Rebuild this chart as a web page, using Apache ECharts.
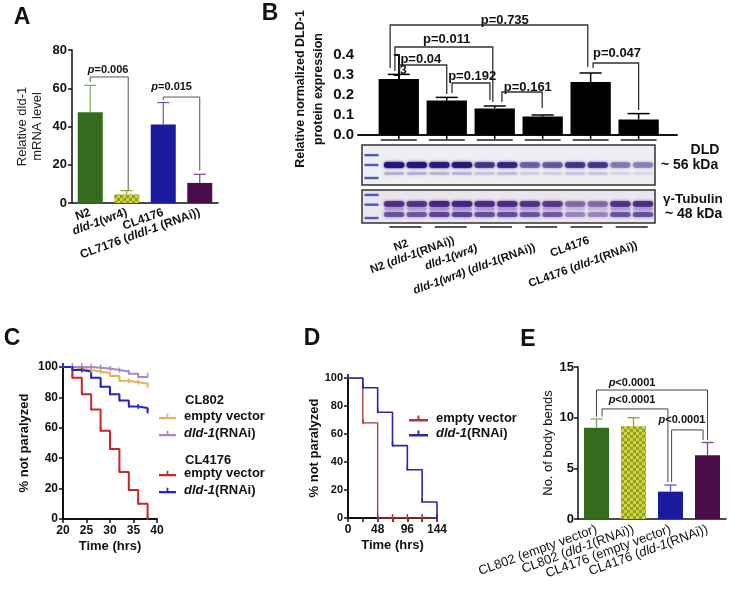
<!DOCTYPE html>
<html>
<head>
<meta charset="utf-8">
<title>dld-1 figure</title>
<script src="https://cdn.jsdelivr.net/npm/echarts@6/dist/echarts.min.js"></script>
<style>
  html, body { margin: 0; padding: 0; background: #fff; }
  #chart { width: 734px; height: 600px; }
</style>
</head>
<body>
<div id="chart"></div>
<script>
// ---- A: relative dld-1 mRNA level ----
const aCategories = ['N2', '{i|dld-1}(wr4)', 'CL4176', 'CL7176 ({i|dldl-1} (RNAi))'];
const aMeans = [47.5, 4.5, 41, 10.5];
const aErrTop = [61.5, 6.5, 52.5, 15];
const aPvals = ['{i|p}=0.006', '{i|p}=0.015'];
// [from, to, height, left leg end, right leg end]
const aBrackets = [[0, 1.04, 65.9, 63.3, 6.8], [2, 3, 55.4, 53.9, 17]];
const aPvalAt = [[0.49, 69.5], [2.23, 60.7]];

// ---- B: normalized DLD-1 protein ----
const bLanes = ['N2', 'N2 ({i|dld-1}(RNAi))', '{i|dld-1(wr4)}', '{i|dld-1(wr4)} ({i|dld-1}(RNAi))', 'CL4176', 'CL4176 ({i|dld-1}(RNAi))'];
const bMeans = [0.28, 0.172, 0.133, 0.092, 0.265, 0.078];
const bErrTop = [0.303, 0.188, 0.145, 0.1, 0.31, 0.107];
const bPvals = ['p=0.735', 'p=0.011', 'p=0.04', 'p=0.192', 'p=0.161', 'p=0.047'];
const bBrackets = [
  [-0.18, 3.94, 0.55, 0.335, 0.34],
  [-0.08, 1.96, 0.44, 0.32, 0.165],
  [0.02, 1.0, 0.35, 0.325, 0.205],
  [1.11, 1.9, 0.26, 0.21, 0.175],
  [2.15, 2.99, 0.215, 0.165, 0.135],
  [4.05, 5.0, 0.36, 0.335, 0.125]
];
const bPvalAt = [[2.21, 0.575], [1.0, 0.48], [0.46, 0.38], [1.53, 0.295], [2.69, 0.24], [4.55, 0.41]];

// western blot lanes (band strength 0..1)
const blotDld = [0.95, 0.95, 0.85, 0.88, 0.62, 0.75, 0.42, 0.45, 0.62, 0.62, 0.32, 0.3];
const blotTub = [0.8, 0.75, 0.95, 0.95, 0.85, 0.85, 0.78, 0.72, 0.42, 0.42, 0.78, 0.82];
const ladder = [0.87, 0.744, 0.577, 0.36, 0.235, 0.064];

// ---- C: paralysis, CL802 / CL4176 ----
const cTime = [20, 22, 24, 26, 28, 30, 32, 34, 36, 38];
const c802Empty = [100, 99, 98, 97, 96, 94, 91, 90, 89, 87];
const c802Rnai = [100, 100, 100, 99.5, 99, 98, 97, 95.5, 93.5, 93.5];
const c4176Empty = [100, 93, 82, 72, 58, 46, 31, 19, 10, 0];
const c4176Rnai = [100, 98, 97, 93, 87, 82, 78, 74, 73, 70];

// ---- D: paralysis ----
const dTime = [0, 24, 48, 72, 96, 120, 144];
const dEmpty = [100, 68, 0, 0, 0, 0, 0];
const dRnai = [100, 93, 75.5, 51.7, 34.5, 11.4, 0];

// ---- E: body bends ----
const eCategories = ['CL802 (empty vector)', 'CL802 ({i|dld-1}(RNAi))', 'CL4176 (empty vector)', 'CL4176 ({i|dld-1}(RNAi))'];
const eMeans = [9.0, 9.15, 2.7, 6.3];
const eErrTop = [9.87, 10.0, 3.35, 7.55];
const ePvals = ['{i|p}<0.0001', '{i|p}<0.0001', '{i|p}<0.0001'];
const eBrackets = [[0, 3, 12.73, 10.1, 7.8], [0.15, 1.93, 10.86, 10.1, 3.65], [2.03, 2.88, 8.79, 3.65, 7.8]];
const ePvalAt = [[0.96, 13.4], [0.96, 11.75], [2.31, 9.77]];

const barColors = ['#346b1d', '#cdd63e', '#1a1a9c', '#4b0c4e'];
const errColors = ['#7fab58', '#9c9c3a', '#5a5ac8', '#7b4a82'];
const FONT = 'Liberation Sans, Arial, sans-serif';
const checker = {
  symbol: 'rect', symbolSize: 1, color: 'rgba(105,115,20,0.55)',
  dashArrayX: [[3, 3], [0, 3, 3, 0]], dashArrayY: [3, 0]
};

const chart = echarts.init(document.getElementById('chart'));

function blackAxis(width) {
  return { show: true, lineStyle: { color: '#111', width: width } };
}

function barData(means) {
  return means.map((v, i) => ({
    value: v,
    itemStyle: Object.assign({ color: barColors[i] }, i === 1 ? { decal: checker } : {})
  }));
}

function errorSeries(xi, means, tops, colors, cap, lw) {
  return {
    type: 'custom', xAxisIndex: xi, yAxisIndex: xi, silent: true, z: 4,
    data: means.map((m, i) => [i, m, tops[i]]),
    renderItem(params, api) {
      const p0 = api.coord([api.value(0), api.value(1)]);
      const p1 = api.coord([api.value(0), api.value(2)]);
      const c = colors[params.dataIndex];
      return {
        type: 'group', children: [
          { type: 'line', shape: { x1: p0[0], y1: p0[1], x2: p1[0], y2: p1[1] }, style: { stroke: c, lineWidth: lw } },
          { type: 'line', shape: { x1: p1[0] - cap, y1: p1[1], x2: p1[0] + cap, y2: p1[1] }, style: { stroke: c, lineWidth: lw } }
        ]
      };
    }
  };
}

function bracketSeries(xi, brackets, labels, at, color, lw, fontSize) {
  return {
    type: 'custom', xAxisIndex: xi, yAxisIndex: xi, silent: true, z: 5,
    data: brackets.map((b, i) => [i]),
    renderItem(params, api) {
      const b = brackets[params.dataIndex];
      const t = at[params.dataIndex];
      const x0 = api.coord([0, 0])[0];
      const bw = api.size([1, 0])[0];
      const px = v => x0 + v * bw;
      const py = v => api.coord([0, v])[1];
      return {
        type: 'group', children: [
          {
            type: 'polyline',
            shape: { points: [[px(b[0]), py(b[3])], [px(b[0]), py(b[2])], [px(b[1]), py(b[2])], [px(b[1]), py(b[4])]] },
            style: { stroke: color, lineWidth: lw, fill: null }
          },
          {
            type: 'text', x: px(t[0]), y: py(t[1]),
            style: {
              text: labels[params.dataIndex], align: 'center', verticalAlign: 'middle',
              fontFamily: FONT, fontWeight: 'bold', fontSize: fontSize, fill: '#111',
              rich: { i: { fontStyle: 'italic', fontWeight: 'bold', fontSize: fontSize, fontFamily: FONT, fill: '#111' } }
            }
          }
        ]
      };
    }
  };
}

function stepSeries(name, xi, xs, ys, color, width) {
  return {
    name: name, type: 'line', step: 'end', xAxisIndex: xi, yAxisIndex: xi,
    data: xs.map((x, i) => [x, ys[i]]),
    symbol: 'rect', symbolSize: [1.5, 5], symbolOffset: [0, -1.5], showSymbol: true,
    lineStyle: { color: color, width: width }, itemStyle: { color: color },
    silent: true, z: 3
  };
}

const legendIcon = 'path://M0,4H16V6H0Z M7.2,1H8.8V5H7.2Z';
const legendText = {
  fontFamily: FONT, fontSize: 13, fontWeight: 'bold', color: '#111', padding: [0, 0, 0, 3],
  rich: { i: { fontFamily: FONT, fontSize: 13, fontWeight: 'bold', fontStyle: 'italic', color: '#111' } }
};
const legendLabel = name => name.replace(/^CL\d+ /, '').replace('dld-1', '{i|dld-1}');

function letter(t, x, y) {
  return { type: 'text', x: x, y: y, style: { text: t, align: 'center', verticalAlign: 'middle', fontFamily: FONT, fontWeight: 'bold', fontSize: 23, fill: '#111' } };
}
function label(t, x, y, size, align, rot) {
  return {
    type: 'text', x: x, y: y, rotation: (rot || 0) * Math.PI / 180,
    style: {
      text: t, align: align || 'left', verticalAlign: 'middle', fontFamily: FONT, fontWeight: 'bold', fontSize: size, fill: '#111',
      rich: { i: { fontFamily: FONT, fontWeight: 'bold', fontStyle: 'italic', fontSize: size, fill: '#111' } }
    }
  };
}

// positions of the rotated blot lane names (right end of each text)
const blotLabelAt = [[408, 243], [454, 240], [477, 248], [535, 247], [589, 240], [637, 245]];

const option = {
  animation: false,
  textStyle: { fontFamily: FONT },
  grid: [
    { left: 72, top: 50, width: 146, height: 153 },
    { left: 358, top: 55, width: 319, height: 80 },
    { left: 362, top: 145, width: 293, height: 78 },
    { left: 63, top: 367, width: 94, height: 152 },
    { left: 348, top: 378, width: 89, height: 140 },
    { left: 578, top: 367, width: 148, height: 152 }
  ],
  xAxis: [
    {
      gridIndex: 0, type: 'category', data: aCategories,
      axisLine: blackAxis(1.5), axisTick: { alignWithLabel: true, length: 4, lineStyle: { color: '#111' } },
      axisLabel: {
        interval: 0, rotate: 20, margin: 9, color: '#111', fontSize: 12, fontWeight: 'bold',
        rich: { i: { fontStyle: 'italic', fontWeight: 'bold', fontSize: 12, color: '#111' } }
      }
    },
    { gridIndex: 1, type: 'value', min: -0.85, max: 5.8, axisLine: blackAxis(2), axisTick: { show: false }, axisLabel: { show: false }, splitLine: { show: false } },
    { gridIndex: 2, type: 'value', min: -1.42, max: 11.53, show: false },
    {
      gridIndex: 3, type: 'value', min: 20, max: 40, interval: 5,
      axisLine: blackAxis(2), axisTick: { length: 4, lineStyle: { color: '#111', width: 1.5 } }, splitLine: { show: false },
      axisLabel: { color: '#111', fontSize: 12, fontWeight: 'bold', margin: 6 },
      name: 'Time (hrs)', nameLocation: 'middle', nameGap: 21, nameTextStyle: { fontSize: 13, fontWeight: 'bold', color: '#111' }
    },
    {
      gridIndex: 4, type: 'value', min: 0, max: 144, interval: 24,
      axisLine: blackAxis(2), axisTick: { length: 4, lineStyle: { color: '#111', width: 1.5 } }, splitLine: { show: false },
      axisLabel: { color: '#111', fontSize: 12, fontWeight: 'bold', margin: 6, formatter: v => (v % 48 === 0 ? v : '') },
      name: 'Time (hrs)', nameLocation: 'middle', nameGap: 21, nameTextStyle: { fontSize: 13, fontWeight: 'bold', color: '#111' }
    },
    {
      gridIndex: 5, type: 'category', data: eCategories,
      axisLine: blackAxis(1.5), axisTick: { alignWithLabel: true, length: 4, lineStyle: { color: '#111' } },
      axisLabel: {
        interval: 0, rotate: 20, margin: 10, color: '#111', fontSize: 13,
        rich: { i: { fontStyle: 'italic', fontSize: 13, color: '#111' } }
      }
    }
  ],
  yAxis: [
    {
      gridIndex: 0, type: 'value', min: 0, max: 80, interval: 20,
      axisLine: blackAxis(1.5), axisTick: { show: true, length: 4, lineStyle: { color: '#111', width: 1.5 } }, splitLine: { show: false },
      axisLabel: { color: '#111', fontSize: 13, fontWeight: 'bold', margin: 5 },
      name: 'Relative dld-1\nmRNA level', nameLocation: 'middle', nameGap: 27,
      nameTextStyle: { fontSize: 13, color: '#222', lineHeight: 15 }
    },
    {
      gridIndex: 1, type: 'value', min: 0, max: 0.4, interval: 0.1,
      axisLine: blackAxis(2), axisTick: { show: true, length: 5, lineStyle: { color: '#111', width: 2 } }, splitLine: { show: false },
      axisLabel: { color: '#111', fontSize: 15, fontWeight: 'bold', margin: 4, formatter: v => v.toFixed(1) }
    },
    { gridIndex: 2, type: 'value', min: 0, max: 1, show: false },
    {
      gridIndex: 3, type: 'value', min: 0, max: 100, interval: 20,
      axisLine: blackAxis(2), axisTick: { show: true, length: 4, lineStyle: { color: '#111', width: 1.5 } }, splitLine: { show: false },
      axisLabel: { color: '#111', fontSize: 12, fontWeight: 'bold', margin: 5 },
      name: '% not paralyzed', nameLocation: 'middle', nameGap: 32, nameTextStyle: { fontSize: 13, fontWeight: 'bold', color: '#111' }
    },
    {
      gridIndex: 4, type: 'value', min: 0, max: 100, interval: 20,
      axisLine: blackAxis(2), axisTick: { show: true, length: 4, lineStyle: { color: '#111', width: 1.5 } }, splitLine: { show: false },
      axisLabel: { color: '#111', fontSize: 11, fontWeight: 'bold', margin: 5 },
      name: '% not paralyzed', nameLocation: 'middle', nameGap: 27, nameTextStyle: { fontSize: 13, fontWeight: 'bold', color: '#111' }
    },
    {
      gridIndex: 5, type: 'value', min: 0, max: 15, interval: 5,
      axisLine: blackAxis(1.5), axisTick: { show: true, length: 4, lineStyle: { color: '#111', width: 1.5 } }, splitLine: { show: false },
      axisLabel: { color: '#111', fontSize: 13, fontWeight: 'bold', margin: 4 },
      name: 'No. of body bends', nameLocation: 'middle', nameGap: 23, nameTextStyle: { fontSize: 13, color: '#111' }
    }
  ],
  legend: [
    {
      data: ['CL802 empty vector', 'CL802 dld-1(RNAi)'], orient: 'vertical', left: 159, top: 410, padding: 0,
      itemWidth: 17, itemHeight: 7, itemGap: 4, icon: legendIcon, selectedMode: false, formatter: legendLabel, textStyle: legendText
    },
    {
      data: ['CL4176 empty vector', 'CL4176 dld-1(RNAi)'], orient: 'vertical', left: 159, top: 467, padding: 0,
      itemWidth: 17, itemHeight: 7, itemGap: 4, icon: legendIcon, selectedMode: false, formatter: legendLabel, textStyle: legendText
    },
    {
      data: ['empty vector', 'dld-1(RNAi)'], orient: 'vertical', left: 409, top: 412, padding: 0,
      itemWidth: 19, itemHeight: 7, itemGap: 2, icon: legendIcon, selectedMode: false, formatter: legendLabel, textStyle: legendText
    }
  ],
  graphic: {
    elements: [
      letter('A', 22, 18), letter('B', 270, 14), letter('C', 12, 339), letter('D', 312, 339), letter('E', 528, 340),
      {
        type: 'text', x: 310, y: 89, rotation: Math.PI / 2,
        style: { text: 'Relative normalized DLD-1\nprotein expression', align: 'center', verticalAlign: 'middle', lineHeight: 18, fontFamily: FONT, fontWeight: 'bold', fontSize: 12.5, fill: '#111' }
      },
      label('3', 400, 71, 12, 'left'),
      { type: 'rect', z: 1, shape: { x: 362, y: 145, width: 293, height: 40 }, style: { fill: '#efeef2', stroke: '#333', lineWidth: 1.5 } },
      { type: 'rect', z: 1, shape: { x: 362, y: 190, width: 293, height: 33 }, style: { fill: '#e9e6ee', stroke: '#333', lineWidth: 1.5 } },
      label('DLD', 705, 150, 14, 'center'),
      label('~ 56 kDa', 661, 165, 14, 'left'),
      label('\u03b3-Tubulin', 663, 199, 13.5, 'left'),
      label('~ 48 kDa', 665, 214, 14, 'left'),
      label('CL802', 185, 400, 13, 'left'),
      label('CL4176', 185, 460, 13, 'left')
    ].concat(bLanes.map((t, i) => label(t, blotLabelAt[i][0], blotLabelAt[i][1], 11.5, 'right', 20)))
  },
  series: [
    // A
    { type: 'bar', xAxisIndex: 0, yAxisIndex: 0, barWidth: 25, silent: true, data: barData(aMeans) },
    errorSeries(0, aMeans, aErrTop, errColors, 6, 1.2),
    bracketSeries(0, aBrackets, aPvals, aPvalAt, '#555', 1, 11),
    // B bars with error bars, ticks and lane underlines
    {
      type: 'custom', xAxisIndex: 1, yAxisIndex: 1, silent: true, z: 4,
      data: bMeans.map((m, i) => [i, m, bErrTop[i]]),
      renderItem(params, api) {
        const i = api.value(0);
        const top = api.coord([i, api.value(1)]);
        const base = api.coord([i, 0]);
        const up = api.coord([i, api.value(2)]);
        const half = api.size([0.84, 0])[0] / 2;
        const k = { stroke: '#000', lineWidth: 1.5 };
        return {
          type: 'group', children: [
            { type: 'rect', shape: { x: top[0] - half, y: top[1], width: half * 2, height: base[1] - top[1] }, style: { fill: '#000' } },
            { type: 'line', shape: { x1: top[0], y1: top[1], x2: up[0], y2: up[1] }, style: k },
            { type: 'line', shape: { x1: up[0] - 11, y1: up[1], x2: up[0] + 11, y2: up[1] }, style: k },
            { type: 'line', shape: { x1: base[0], y1: base[1], x2: base[0], y2: base[1] + 5 }, style: k },
            { type: 'line', shape: { x1: base[0] - 18, y1: base[1] + 5, x2: base[0] + 18, y2: base[1] + 5 }, style: { stroke: '#555', lineWidth: 2 } }
          ]
        };
      }
    },
    bracketSeries(1, bBrackets, bPvals, bPvalAt, '#333', 1.3, 13),
    // blot lanes
    {
      type: 'custom', xAxisIndex: 2, yAxisIndex: 2, silent: true, z: 3,
      data: blotDld.map((d, i) => [i, d, blotTub[i]]),
      renderItem(params, api) {
        const lane = api.value(0);
        const w = api.size([0.9, 0])[0];
        const band = (y, h, color, alpha) => {
          const c = api.coord([lane, y]);
          return {
            type: 'rect', shape: { x: c[0] - w / 2, y: c[1] - h / 2, width: w, height: h, r: h / 2 },
            style: { fill: color, opacity: alpha, shadowBlur: 3, shadowColor: color }
          };
        };
        const dld = api.value(1), tub = api.value(2);
        const kids = [
          band(0.744, 6, '#22187a', Math.min(1, dld * 1.05)),
          band(0.635, 3, '#6a5aa8', dld * 0.3),
          band(0.245, 6, '#45237f', tub),
          band(0.18, 3, '#8a70c0', tub * 0.5),
          band(0.11, 5, '#563696', tub * 0.85)
        ];
        if (lane % 2 === 0) {
          const a = api.coord([lane, 0]);
          const b = api.coord([lane + 1, 0]);
          const mid = (a[0] + b[0]) / 2;
          kids.push({ type: 'line', shape: { x1: mid - 16, y1: a[1] + 4, x2: mid + 16, y2: a[1] + 4 }, style: { stroke: '#555', lineWidth: 2 } });
        }
        return { type: 'group', children: kids };
      }
    },
    {
      type: 'custom', xAxisIndex: 2, yAxisIndex: 2, silent: true, z: 3,
      data: ladder.map(y => [-1.0, y]),
      renderItem(params, api) {
        const c = api.coord([api.value(0), api.value(1)]);
        return { type: 'rect', shape: { x: c[0] - 7, y: c[1] - 1.2, width: 14, height: 2.4 }, style: { fill: '#2e3fb0', opacity: 0.85 } };
      }
    },
    // C
    stepSeries('CL802 empty vector', 3, cTime, c802Empty, '#e6b25f', 2),
    stepSeries('CL802 dld-1(RNAi)', 3, cTime, c802Rnai, '#a68ac8', 2),
    stepSeries('CL4176 empty vector', 3, cTime, c4176Empty, '#c8262a', 2),
    stepSeries('CL4176 dld-1(RNAi)', 3, cTime, c4176Rnai, '#2525c8', 2),
    // D
    stepSeries('empty vector', 4, dTime, dEmpty, '#b03434', 1.3),
    stepSeries('dld-1(RNAi)', 4, dTime, dRnai, '#2a2aa0', 1.6),
    // E
    { type: 'bar', xAxisIndex: 5, yAxisIndex: 5, barWidth: 25, silent: true, data: barData(eMeans) },
    errorSeries(5, eMeans, eErrTop, errColors, 6, 1.3),
    bracketSeries(5, eBrackets, ePvals, ePvalAt, '#444', 1, 11)
  ]
};

chart.setOption(option);
</script>
</body>
</html>
